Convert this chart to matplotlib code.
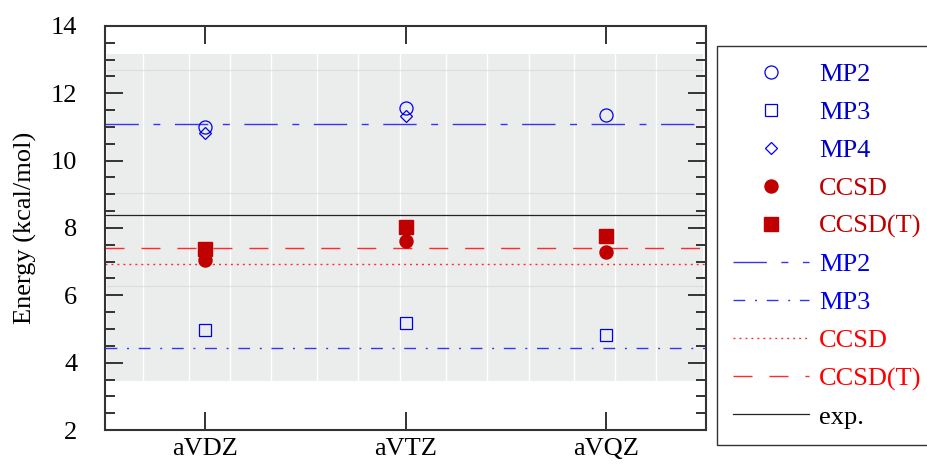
import numpy as np
import matplotlib.pyplot as plt
from matplotlib.lines import Line2D

plt.rcParams['font.family'] = ['Liberation Serif', 'DejaVu Serif']
plt.rcParams['lines.scale_dashes'] = False

basis = ['aVDZ', 'aVTZ', 'aVQZ']

mp2 = [11.00, 11.55, 11.35]
mp3 = [4.97, 5.18, 4.82]
mp4 = [10.83, 11.33, np.nan]
ccsd = [7.05, 7.60, 7.30]
ccsd_t = [7.38, 8.04, 7.77]

# reference levels (horizontal lines)
lvl_mp2 = 11.09
lvl_mp3 = 4.43
lvl_ccsd = 6.92
lvl_ccsd_t = 7.40
lvl_exp = 8.39

# shaded panel behind the data
shade_x = (-0.49, 2.485)
shade_y = (3.46, 13.17)
shade_vlines = [-0.31, -0.08, 0.125, 0.33, 0.56, 0.765, 0.975, 1.2, 1.405,
                1.615, 1.84, 2.045, 2.25]
shade_hlines = [12.69, 9.04, 6.28]

blue = '#0000ee'
blue_ln = '#3535ee'
dred = '#c00000'
red_ln = '#ff2a2a'

fig = plt.figure(figsize=(9.27, 4.65), dpi=100)
ax = fig.add_axes([105/927, 1-430/465, 601/927, 404/465])

x = np.arange(len(basis))

ax.fill_between(shade_x, shade_y[0], shade_y[1], color='#ebecec', lw=0, zorder=0)
for v in shade_vlines:
    ax.plot([v, v], shade_y, color='white', lw=1.0, zorder=0.5)
for h in shade_hlines:
    ax.plot(shade_x, [h, h], color='#dcdddd', lw=0.8, zorder=0.5)

l_mp2 = ax.axhline(lvl_mp2, color=blue_ln, lw=1.0, ls=(0, (24, 10.5, 5, 10.5)), zorder=2)
l_mp3 = ax.axhline(lvl_mp3, color=blue_ln, lw=1.0, ls=(0, (8.5, 7, 1.4, 7)), zorder=2)
l_ccsd = ax.axhline(lvl_ccsd, color=red_ln, lw=1.0, ls=(0, (1.4, 2.9)), zorder=2)
l_ccsdt = ax.axhline(lvl_ccsd_t, color=red_ln, lw=1.0, ls=(0, (13.7, 12.2)), zorder=2)
l_exp = ax.axhline(lvl_exp, color='#222222', lw=0.9, zorder=2)

m_mp2, = ax.plot(x, mp2, 'o', ms=9.4, mfc='none', mec=blue, mew=0.9, ls='none', zorder=3)
m_mp3, = ax.plot(x, mp3, 's', ms=9.2, mfc='none', mec=blue, mew=0.9, ls='none', zorder=3)
m_mp4, = ax.plot(x, mp4, 'D', ms=6.5, mfc='none', mec=blue, mew=0.9, ls='none', zorder=3)
m_ccsd, = ax.plot(x, ccsd, 'o', ms=9.4, mfc=dred, mec=dred, ls='none', zorder=3)
m_ccsdt, = ax.plot(x, ccsd_t, 's', ms=9.6, mfc=dred, mec=dred, ls='none', zorder=3)

ax.set_xlim(-0.5, 2.5)
ax.set_ylim(2, 14)
ax.set_xticks(x)
ax.set_xticklabels(basis)
ax.set_yticks(np.arange(2, 15, 2))
ax.set_yticks(np.arange(2, 14.01, 0.5), minor=True)
ax.tick_params(axis='both', which='major', direction='in', length=13, width=1.4,
               color='#333333', labelsize=19, top=True, right=True)
ax.tick_params(axis='y', which='minor', direction='in', length=7, width=1.4,
               color='#333333', right=True)
ax.tick_params(axis='y', which='major', pad=20)
ax.tick_params(axis='x', which='major', pad=6)
for s in ax.spines.values():
    s.set_color('#333333')
    s.set_linewidth(1.5)
ax.set_ylabel('Energy (kcal/mol)', fontsize=19, labelpad=10)

handles = [m_mp2, m_mp3, m_mp4, m_ccsd, m_ccsdt, l_mp2, l_mp3, l_ccsd, l_ccsdt, l_exp]
labels = ['MP2', 'MP3', 'MP4', 'CCSD', 'CCSD(T)', 'MP2', 'MP3', 'CCSD', 'CCSD(T)', 'exp.']
colors = ['#0000cc'] * 3 + [dred] * 2 + ['#0000ee'] * 2 + ['#ff0000'] * 2 + ['black']

leg = ax.legend(handles, labels, loc='upper left', bbox_to_anchor=(717/927, 1-46/465),
                bbox_transform=fig.transFigure, borderaxespad=0, fontsize=19,
                handlelength=2.85, handletextpad=0.4, labelspacing=0.55,
                borderpad=0.62, fancybox=False, framealpha=1, edgecolor='#333333')
leg.get_frame().set_linewidth(1.0)
for t, c in zip(leg.get_texts(), colors):
    t.set_color(c)

fig.savefig('out.png', dpi=100)
